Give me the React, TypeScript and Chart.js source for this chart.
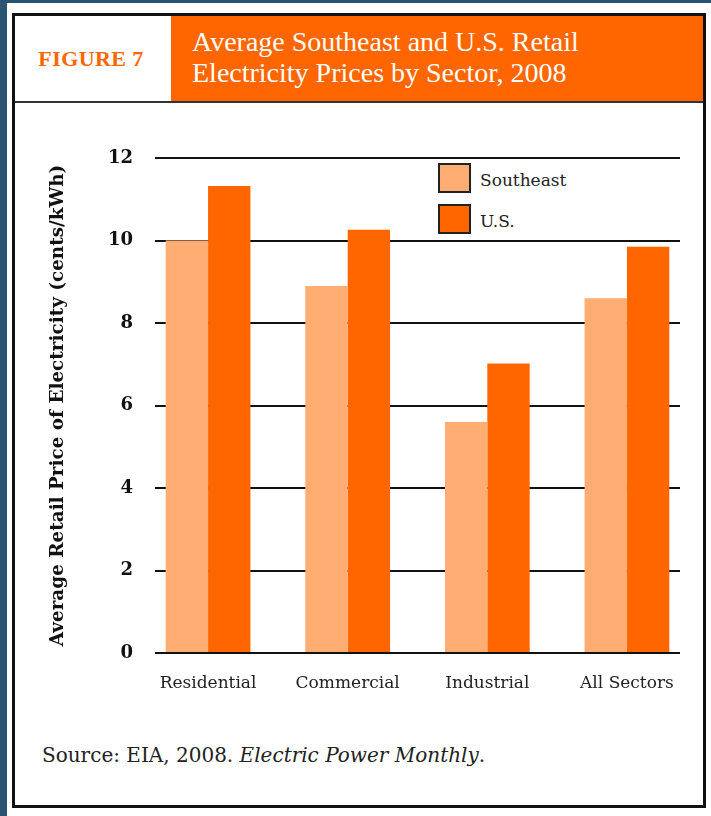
import { useEffect, useRef } from 'react';
import { Chart, registerables } from 'chart.js';

Chart.register(...registerables);

const categories = ['Residential', 'Commercial', 'Industrial', 'All Sectors'];
const southeast = [10.0, 8.9, 5.6, 8.6];
const us = [11.32, 10.26, 7.02, 9.85];
const seriesNames = ['Southeast', 'U.S.'];
const seriesColors = ['#FFAD72', '#FF6600'];
const yTickValues = [0, 2, 4, 6, 8, 10, 12];

const figureLabel = 'FIGURE 7';
const titleLines = ['Average Southeast and U.S. Retail', 'Electricity Prices by Sector, 2008'];
const yAxisTitle = 'Average Retail Price of Electricity (cents/kWh)';

const X_MIN = -0.38;
const X_MAX = 3.38;

export default function App() {
  const canvasRef = useRef<HTMLCanvasElement | null>(null);

  useEffect(() => {
    document.body.style.margin = '0';
    document.body.style.background = '#2a5472';
    const canvas = canvasRef.current;
    if (!canvas) return;
    const chart = new Chart(canvas, {
      type: 'bar',
      data: {
        datasets: [
          {
            label: seriesNames[0],
            data: southeast.map((y, i) => ({ x: i, y })),
            backgroundColor: seriesColors[0],
            borderWidth: 0,
          },
          {
            label: seriesNames[1],
            data: us.map((y, i) => ({ x: i, y })),
            backgroundColor: seriesColors[1],
            borderWidth: 0,
          },
        ],
      },
      options: {
        animation: false,
        responsive: true,
        maintainAspectRatio: false,
        layout: { padding: { top: 53, right: 23, bottom: 0, left: 0 } },
        datasets: { bar: { categoryPercentage: 0.607, barPercentage: 1.0 } },
        plugins: { legend: { display: false }, tooltip: { enabled: false } },
        scales: {
          x: {
            type: 'linear',
            min: X_MIN,
            max: X_MAX,
            bounds: 'data',
            offset: false,
            grid: { display: false },
            border: { display: false },
            afterBuildTicks: (scale: any) => {
              scale.ticks = categories.map((_, i) => ({ value: i }));
              scale.min = X_MIN;
              scale.max = X_MAX;
            },
            afterFit: (scale: any) => {
              scale.height = 57;
            },
            ticks: {
              autoSkip: false,
              maxRotation: 0,
              padding: 12,
              color: '#222',
              font: { family: 'DejaVu Serif', size: 17 },
              callback: (v: any) => categories[v as number] ?? '',
            },
          },
          y: {
            min: 0,
            max: 12,
            grid: { color: '#111', lineWidth: 2, drawTicks: false },
            border: { display: false },
            afterBuildTicks: (scale: any) => {
              scale.ticks = yTickValues.map((v) => ({ value: v }));
            },
            afterFit: (scale: any) => {
              scale.width = 140;
            },
            ticks: {
              padding: 22,
              color: '#111',
              font: { family: 'DejaVu Serif', size: 18, weight: 'bold' },
            },
            title: {
              display: true,
              text: yAxisTitle,
              color: '#111',
              padding: { top: 32, bottom: 0 },
              font: { family: 'DejaVu Serif', size: 18.4, weight: 'bold' },
            },
          },
        },
      },
    });
    return () => chart.destroy();
  }, []);

  return (
    <div style={{ position: 'relative', width: 711, height: 816, background: '#2a5472', overflow: 'hidden' }}>
      <div style={{ position: 'absolute', left: 7, top: 3, width: 704, height: 813, background: '#fff' }} />
      <div
        style={{
          position: 'absolute',
          left: 12,
          top: 13,
          width: 694,
          height: 795,
          border: '3px solid #111',
          boxSizing: 'border-box',
          background: '#fff',
        }}
      />
      <div
        style={{
          position: 'absolute',
          left: 15,
          top: 16,
          width: 156,
          height: 85,
          display: 'flex',
          alignItems: 'center',
          justifyContent: 'center',
          color: '#FF6600',
          fontFamily: 'Liberation Serif',
          fontWeight: 'bold',
          fontSize: 22,
          letterSpacing: 0.4,
          paddingRight: 4,
          paddingTop: 1,
          boxSizing: 'border-box',
        }}
      >
        {figureLabel}
      </div>
      <div
        style={{
          position: 'absolute',
          left: 171,
          top: 16,
          width: 532,
          height: 85,
          background: '#FF6600',
          color: '#fff',
          fontFamily: 'Liberation Serif',
          fontSize: 28,
          lineHeight: '31px',
          paddingLeft: 21,
          paddingTop: 10,
          boxSizing: 'border-box',
          whiteSpace: 'nowrap',
        }}
      >
        {titleLines.map((t) => (
          <div key={t}>{t}</div>
        ))}
      </div>
      <div style={{ position: 'absolute', left: 15, top: 101, width: 688, height: 2, background: '#333' }} />
      <div style={{ position: 'absolute', left: 15, top: 105, width: 688, height: 605 }}>
        <canvas ref={canvasRef} />
      </div>
      {seriesNames.map((name, i) => (
        <div
          key={name}
          style={{
            position: 'absolute',
            left: 438,
            top: 163 + i * 41,
            height: 30,
            display: 'flex',
            alignItems: 'center',
            fontFamily: 'DejaVu Serif',
            fontSize: 17,
            color: '#222',
            background: '#fff',
            paddingRight: 6,
          }}
        >
          <div
            style={{
              width: 33,
              height: 30,
              background: seriesColors[i],
              border: '2px solid #222',
              boxSizing: 'border-box',
              marginRight: 9,
            }}
          />
          <span style={{ paddingTop: 4 }}>{name}</span>
        </div>
      ))}
      <div
        style={{
          position: 'absolute',
          left: 42,
          top: 743,
          fontFamily: 'DejaVu Serif',
          fontSize: 20,
          color: '#222',
          whiteSpace: 'nowrap',
        }}
      >
        Source: EIA, 2008. <i>Electric Power Monthly</i>.
      </div>
    </div>
  );
}
